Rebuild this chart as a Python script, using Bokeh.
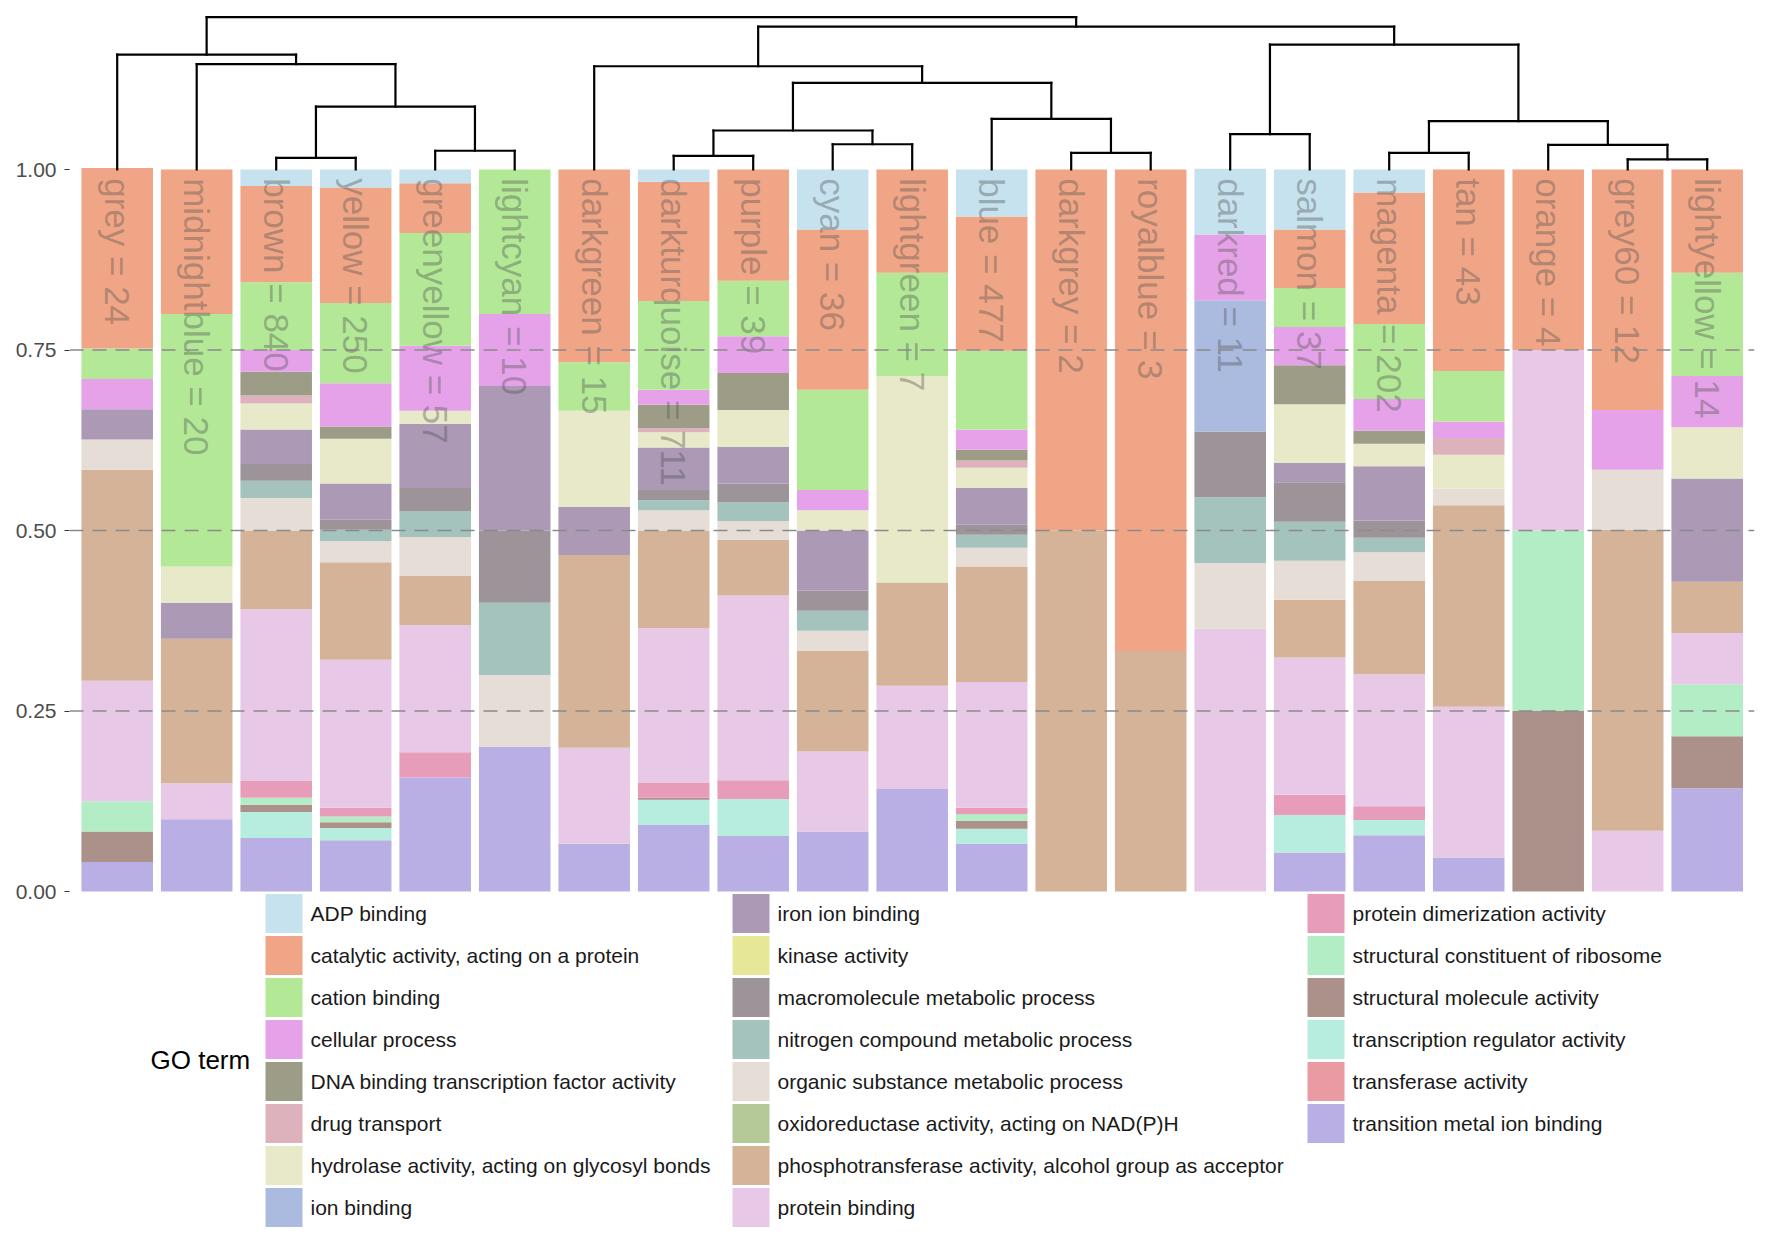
import math
from bokeh.plotting import figure
from bokeh.models import Range1d, FixedTicker, Span, ColumnDataSource, PrintfTickFormatter
from bokeh.core.properties import value
from bokeh.embed import file_html
from bokeh.resources import INLINE

# ---------------- data ----------------
modules = ["grey", "midnightblue", "brown", "yellow", "greenyellow", "lightcyan",
           "darkgreen", "darkturquoise", "purple", "cyan", "lightgreen", "blue",
           "darkgrey", "royalblue", "darkred", "salmon", "magenta", "tan",
           "orange", "grey60", "lightyellow"]
module_sizes = [24, 20, 840, 250, 57, 10, 15, 711, 39, 36, 7, 477, 2, 3, 11, 37,
                202, 43, 4, 12, 14]

go_terms = ["ADP binding",
            "catalytic activity, acting on a protein",
            "cation binding",
            "cellular process",
            "DNA binding transcription factor activity",
            "drug transport",
            "hydrolase activity, acting on glycosyl bonds",
            "ion binding",
            "iron ion binding",
            "kinase activity",
            "macromolecule metabolic process",
            "nitrogen compound metabolic process",
            "organic substance metabolic process",
            "oxidoreductase activity, acting on NAD(P)H",
            "phosphotransferase activity, alcohol group as acceptor",
            "protein binding",
            "protein dimerization activity",
            "structural constituent of ribosome",
            "structural molecule activity",
            "transcription regulator activity",
            "transferase activity",
            "transition metal ion binding"]

term_colors = ["#C6E2EE", "#F0A686", "#B3E897", "#E6A2E8", "#9D9D87", "#DDB2BD",
               "#E7E9C8", "#AABBDF", "#AB99B5", "#E6E898", "#9D9499", "#A3C3BC",
               "#E6DED6", "#B4C898", "#D4B399", "#E8C8E7", "#E79CBA", "#B2EDC6",
               "#AB918A", "#B7EDDE", "#E99AA3", "#B9AFE4"]

# proportion of each GO term (order of go_terms) within each module
grey          = [0, .250, .042, .042, 0, 0, 0, 0, .042, 0, 0, 0, .042, 0, .292, .167, 0, .042, .042, 0, 0, .041]
midnightblue  = [0, .200, .350, 0, 0, 0, .050, 0, .050, 0, 0, 0, 0, 0, .200, .050, 0, 0, 0, 0, 0, .100]
brown         = [.023, .133, .094, .030, .033, .011, .036, 0, .048, 0, .023, .024, .045, 0, .109, .238, .023, .010, .010, .036, 0, .074]
yellow        = [.025, .160, .111, .060, .017, 0, .062, 0, .050, 0, .014, .016, .029, 0, .135, .205, .012, .008, .008, .017, 0, .071]
greenyellow   = [.019, .069, .156, .090, 0, 0, .018, 0, .089, 0, .032, .036, .054, 0, .068, .176, .035, 0, 0, 0, 0, .158]
lightcyan     = [0, 0, .200, .100, 0, 0, 0, 0, .200, 0, .100, .100, .100, 0, 0, 0, 0, 0, 0, 0, 0, .200]
darkgreen     = [0, .267, .067, 0, 0, 0, .133, 0, .067, 0, 0, 0, 0, 0, .267, .133, 0, 0, 0, 0, 0, .066]
darkturquoise = [.017, .165, .123, .021, .032, .006, .021, 0, .059, 0, .014, .014, .028, 0, .135, .214, .021, 0, .003, .035, 0, .092]
purple        = [0, .154, .077, .051, .051, 0, .051, 0, .051, 0, .026, .026, .026, 0, .077, .256, .026, 0, 0, .051, 0, .077]
cyan          = [.083, .222, .139, .028, 0, 0, .028, 0, .083, 0, .028, .028, .028, 0, .139, .111, 0, 0, 0, 0, 0, .083]
lightgreen    = [0, .143, .143, 0, 0, 0, .286, 0, 0, 0, 0, 0, 0, 0, .143, .143, 0, 0, 0, 0, 0, .142]
blue          = [.065, .186, .109, .028, .015, .010, .028, 0, .051, 0, .014, .018, .026, 0, .160, .174, .009, .009, .011, .021, 0, .066]
darkgrey      = [0, .500, 0, 0, 0, 0, 0, 0, 0, 0, 0, 0, 0, 0, .500, 0, 0, 0, 0, 0, 0, 0]
royalblue     = [0, .667, 0, 0, 0, 0, 0, 0, 0, 0, 0, 0, 0, 0, .333, 0, 0, 0, 0, 0, 0, 0]
darkred       = [.091, 0, 0, .091, 0, 0, 0, .182, 0, 0, .091, .091, .091, 0, 0, .364, 0, 0, 0, 0, 0, 0]
salmon        = [.083, .081, .054, .053, .054, 0, .081, 0, .027, 0, .055, .054, .054, 0, .080, .190, .028, 0, 0, .052, 0, .054]
magenta       = [.032, .182, .104, .044, .018, 0, .031, 0, .075, 0, .024, .020, .040, 0, .129, .183, .019, 0, 0, .021, 0, .078]
tan           = [0, .279, .070, .023, 0, .023, .047, 0, 0, 0, 0, 0, .023, 0, .279, .209, 0, 0, 0, 0, 0, .047]
orange        = [0, .250, 0, 0, 0, 0, 0, 0, 0, 0, 0, 0, 0, 0, 0, .250, 0, .250, .250, 0, 0, 0]
grey60        = [0, .333, 0, .083, 0, 0, 0, 0, 0, 0, 0, 0, .083, 0, .417, .084, 0, 0, 0, 0, 0, 0]
lightyellow   = [0, .143, .143, .071, 0, 0, .071, 0, .143, 0, 0, 0, 0, 0, .071, .071, 0, .072, .072, 0, 0, .143]

module_profiles = [grey, midnightblue, brown, yellow, greenyellow, lightcyan,
                   darkgreen, darkturquoise, purple, cyan, lightgreen, blue,
                   darkgrey, royalblue, darkred, salmon, magenta, tan,
                   orange, grey60, lightyellow]

# dendrogram (hclust-style merges: negative = leaf index, positive = earlier merge)
merge_a = [-3, -5, 1, -2, -1, -8, -10, 6, -13, -12, 8, -7, -15, -17, -20, -19, 14, 13, 12, 5]
merge_b = [-4, -6, 2, 3, 4, -9, -11, 7, -14, 9, 10, 11, -16, -18, -21, 15, 16, 17, 18, 19]
merge_h = [1.016, 1.026, 1.087, 1.146, 1.159, 1.019, 1.035, 1.054, 1.023, 1.070,
           1.120, 1.143, 1.049, 1.023, 1.014, 1.034, 1.067, 1.173, 1.198, 1.211]

# ---------------- layout ----------------
W, H = 1756, 1233
FL, FR = 69, 2            # frame borders (px)
PX_X = 79.5               # px per category
PX_Y = 722.0              # px per unit of proportion
X0 = 0.4
X1 = X0 + (W - FL - FR) / PX_X
Y1 = 1 + 169 / PX_Y
Y0 = Y1 - H / PX_Y

def fx(px):   # figure px (from figure left) -> data x
    return X0 + (px - FL) / PX_X

def fy(py):   # figure px from top -> data y
    return Y1 - py / PX_Y

p = figure(width=W, height=H, output_backend="svg", toolbar_location=None,
           x_range=Range1d(X0, X1), y_range=Range1d(Y0, Y1),
           min_border_left=FL, min_border_right=FR, min_border_top=0,
           min_border_bottom=0)
p.outline_line_color = None
p.xaxis.visible = False
p.xgrid.visible = False
p.ygrid.visible = False
p.background_fill_color = "white"

ax = p.yaxis[0]
ax.ticker = FixedTicker(ticks=[0, 0.25, 0.5, 0.75, 1.0])
ax.formatter = PrintfTickFormatter(format="%.2f")
ax.axis_line_color = None
ax.major_tick_in = 0
ax.major_tick_out = 5
ax.minor_tick_out = 0
ax.minor_tick_in = 0
ax.major_tick_line_color = "#333333"
ax.major_label_text_font = "Liberation Sans"
ax.major_label_text_font_size = "21px"
ax.major_label_text_color = "#4d4d4d"
ax.major_label_standoff = 8

# stacked bars
xs = list(range(1, len(modules) + 1))
src = {"x": xs}
for ti, term in enumerate(go_terms):
    src["t%d" % ti] = [prof[ti] for prof in module_profiles]
source = ColumnDataSource(src)
order = list(range(len(go_terms)))[::-1]
p.vbar_stack(["t%d" % i for i in order], x="x", width=0.9, source=source,
             color=[term_colors[i] for i in order], line_color=None)

# dashed guide lines
for v in [0.25, 0.5, 0.75]:
    p.add_layout(Span(location=v, dimension="width", line_color="#8a8a8a",
                      line_dash="14 9", line_width=1.3))

# module labels
labels = ["%s = %d" % (m, n) for m, n in zip(modules, module_sizes)]
p.text(x=xs, y=[0.988] * len(xs), text=labels, angle=-math.pi / 2,
       text_align="left", text_baseline="middle",
       text_font=value("Liberation Sans"), text_font_size="35px",
       text_color="#505050", text_alpha=0.4)

# dendrogram
nodes = {}
def node(i):
    if i < 0:
        return (float(-i), 1.0)
    return nodes[i]
x0s, y0s, x1s, y1s = [], [], [], []
for k, (a, b, h) in enumerate(zip(merge_a, merge_b, merge_h), start=1):
    xa, ha = node(a)
    xb, hb = node(b)
    x0s += [xa, xb, xa]
    y0s += [ha, hb, h]
    x1s += [xa, xb, xb]
    y1s += [h, h, h]
    nodes[k] = ((xa + xb) / 2.0, h)
p.segment(x0=x0s, y0=y0s, x1=x1s, y1=y1s, line_color="black", line_width=2.2,
          line_cap="square")

# legend (manual, column-major, 8 rows)
col_key_left = [265, 732, 1307]
row_top = 913
row_step = 42
key_w, key_h = 37, 39
kx, ky, kc, tx, ty = [], [], [], [], []
for i, term in enumerate(go_terms):
    c, r = divmod(i, 8)
    cy = row_top + r * row_step
    kx.append(fx(col_key_left[c] + key_w / 2))
    ky.append(fy(cy))
    kc.append(term_colors[i])
    tx.append(fx(col_key_left[c] + 45))
    ty.append(fy(cy))
p.rect(x=kx, y=ky, width=key_w, height=key_h, width_units="screen",
       height_units="screen", fill_color=kc, line_color=None)
p.text(x=tx, y=ty, text=go_terms, text_align="left", text_baseline="middle",
       text_font=value("Liberation Sans"), text_font_size="21px",
       text_color="#1a1a1a")
p.text(x=[fx(150)], y=[fy(1059)], text=["GO term"], text_align="left",
       text_baseline="middle", text_font=value("Liberation Sans"),
       text_font_size="26px", text_color="#000000")

open("out.html", "w").write(file_html(p, INLINE))
